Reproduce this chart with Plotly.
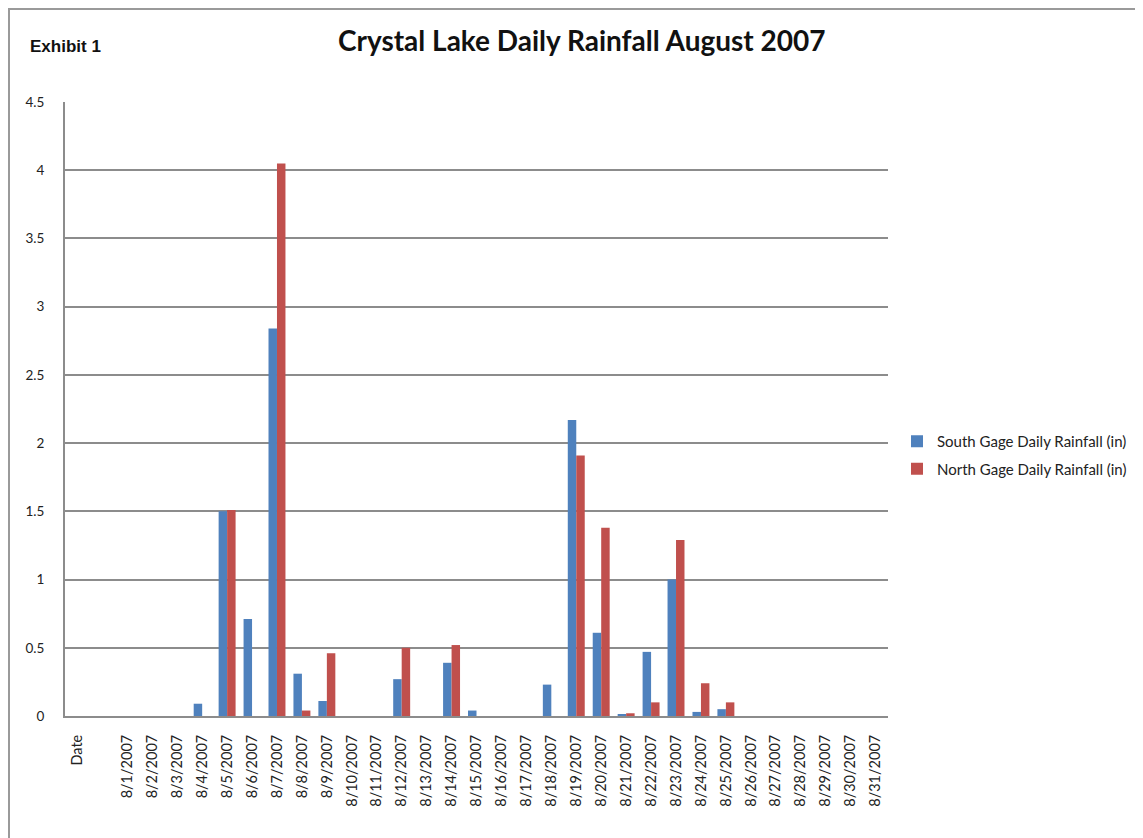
import plotly.graph_objects as go

categories = ["Date", " "] + [f"8/{d}/2007" for d in range(1, 32)]

south = [None, None,
         0, 0, 0, 0.09, 1.50, 0.71, 2.84, 0.31, 0.11, 0, 0, 0.27, 0, 0.39, 0.04,
         0, 0, 0.23, 2.17, 0.61, 0.01, 0.47, 1.00, 0.03, 0.05, 0, 0, 0, 0, 0, 0]
north = [None, None,
         0, 0, 0, 0, 1.51, 0, 4.05, 0.04, 0.46, 0, 0, 0.50, 0, 0.52, 0,
         0, 0, 0, 1.91, 1.38, 0.02, 0.10, 1.29, 0.24, 0.10, 0, 0, 0, 0, 0, 0]

y_ticks = [0, 0.5, 1, 1.5, 2, 2.5, 3, 3.5, 4, 4.5]
y_labels = ["0", "0.5", "1", "1.5", "2", "2.5", "3", "3.5", "4", "4.5"]

# page body has an 8px margin; work in reference-window pixel coordinates
OFF = 8
W, H = 1143 - OFF, 838 - OFF
PLOT_L, PLOT_R, PLOT_T, PLOT_B = 65, 888, 102, 716   # in window pixels
ML, MT = PLOT_L - OFF, PLOT_T - OFF
MR, MB = W - (PLOT_R - OFF), H - (PLOT_B - OFF)
PW, PH = PLOT_R - PLOT_L, PLOT_B - PLOT_T


def px(x):
    return (x - PLOT_L) / PW


def py(y):
    return (PLOT_B - y) / PH


fig = go.Figure()
fig.add_trace(go.Bar(x=categories, y=south, name="South Gage Daily Rainfall (in)",
                     legendgroup="s",
                     marker=dict(color="#4F81BD", line=dict(width=0))))
fig.add_trace(go.Bar(x=categories, y=north, name="North Gage Daily Rainfall (in)",
                     legendgroup="n",
                     marker=dict(color="#C0504D", line=dict(width=0))))

font_main = "Lato, 'Open Sans', sans-serif"

fig.update_layout(
    width=W, height=H,
    margin=dict(l=ML, r=MR, t=MT, b=MB, autoexpand=False),
    paper_bgcolor="white", plot_bgcolor="white",
    barmode="group", bargap=0.32, bargroupgap=0,
    font=dict(family=font_main, size=14, color="#222"),
    showlegend=True,
    legend=dict(x=px(897), y=py(425), xanchor="left", yanchor="top",
                font=dict(family=font_main, size=15, color="#222"),
                itemwidth=30, tracegroupgap=5, bgcolor="rgba(0,0,0,0)"),
    xaxis=dict(type="category", categoryorder="array", categoryarray=categories,
               range=[-0.5, len(categories) - 0.5],
               tickangle=-90, showgrid=False, showline=True, linecolor="#8c8c8c",
               linewidth=2, ticks="", ticklabelstandoff=11,
               tickfont=dict(family=font_main, size=14.5, color="#222")),
    yaxis=dict(range=[0, 4.5], tickvals=y_ticks, ticktext=y_labels,
               showgrid=True, gridcolor="#8c8c8c", gridwidth=1.5,
               showline=True, linecolor="#8c8c8c", linewidth=2, zeroline=False,
               ticks="", ticklabelstandoff=16,
               tickfont=dict(family=font_main, size=13.5, color="#222")),
    annotations=[
        dict(text="<b>Crystal Lake Daily Rainfall August 2007</b>", x=px(582), y=py(40),
             xref="paper", yref="paper", showarrow=False, xanchor="center", yanchor="middle",
             font=dict(family=font_main, size=28, color="#111")),
        dict(text="<b>Exhibit 1</b>", x=px(28), y=py(47),
             xref="paper", yref="paper", showarrow=False, xanchor="left", yanchor="middle",
             font=dict(family="Liberation Sans, Arial, sans-serif", size=17, color="#111")),
    ],
    shapes=[
        dict(type="rect", xref="paper", yref="paper",
             x0=px(OFF + 1), x1=px(1170), y0=py(870), y1=py(OFF + 1),
             line=dict(color="#9a9a9a", width=2), fillcolor="rgba(0,0,0,0)", layer="below"),
    ],
)

fig.write_html("out.html")
